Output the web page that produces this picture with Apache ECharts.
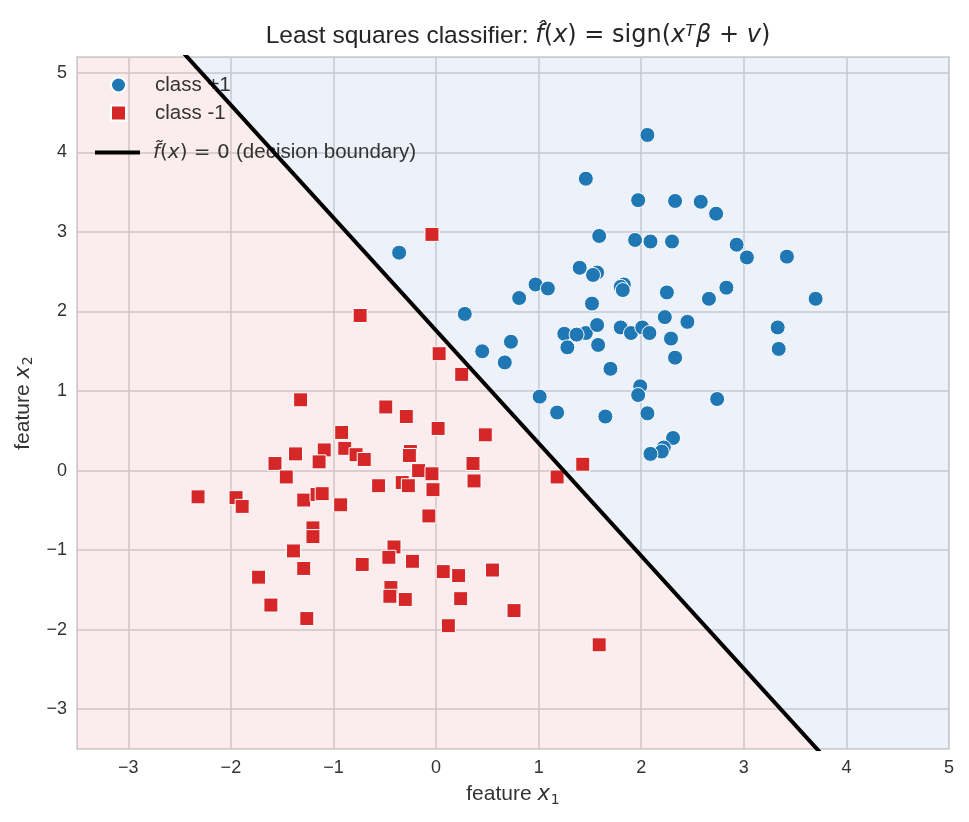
<!DOCTYPE html>
<html>
<head>
<meta charset="utf-8">
<script src="https://cdn.jsdelivr.net/npm/echarts@6/dist/echarts.min.js"></script>
<style>
  html, body { margin: 0; padding: 0; background: #fff; }
  #chart { width: 969px; height: 822px; }
</style>
</head>
<body>
<div id="chart"></div>
<script>
// class +1 points [x1, x2]
const classPos = [
  [2.06, 4.22], [1.46, 3.67], [1.97, 3.40], [2.33, 3.39], [2.58, 3.38], [2.73, 3.23],
  [1.59, 2.95], [1.94, 2.90], [2.09, 2.88], [2.30, 2.88], [2.93, 2.84], [3.03, 2.68],
  [3.42, 2.69], [-0.36, 2.74], [1.40, 2.55], [1.57, 2.49], [1.53, 2.46], [1.83, 2.34],
  [1.80, 2.31], [1.82, 2.27], [2.25, 2.24], [2.83, 2.30], [2.66, 2.16], [3.70, 2.16],
  [0.97, 2.34], [1.09, 2.29], [0.81, 2.17], [1.52, 2.10], [0.28, 1.97], [1.46, 1.73],
  [1.57, 1.83], [1.58, 1.58], [1.80, 1.80], [1.90, 1.73], [2.01, 1.80], [2.08, 1.73],
  [2.23, 1.93], [2.45, 1.87], [2.29, 1.66], [2.33, 1.42], [1.70, 1.28], [1.99, 1.06],
  [1.97, 0.95], [2.74, 0.90], [1.65, 0.68], [2.06, 0.72], [2.31, 0.41], [2.22, 0.29],
  [2.20, 0.24], [2.09, 0.21], [3.33, 1.80], [3.34, 1.53], [1.01, 0.93], [1.18, 0.73],
  [0.45, 1.50], [0.67, 1.36], [0.73, 1.62], [1.25, 1.72], [1.37, 1.71], [1.28, 1.55]
];
// class -1 points
const classNeg = [
  [-0.04, 2.97], [-0.74, 1.95], [0.03, 1.47], [0.25, 1.21], [-1.32, 0.89], [-0.49, 0.80],
  [-0.29, 0.68], [-0.92, 0.48], [0.02, 0.53], [0.48, 0.45], [-1.37, 0.21], [-1.09, 0.26],
  [-1.14, 0.11], [-1.57, 0.09], [-1.46, -0.08], [-0.89, 0.28], [-0.78, 0.20], [-0.70, 0.14],
  [-0.25, 0.24], [-0.26, 0.19], [-0.17, 0.00], [-0.56, -0.19], [-0.33, -0.15], [-0.27, -0.19],
  [-0.04, -0.04], [-0.03, -0.24], [-0.07, -0.57], [0.36, 0.09], [0.37, -0.13], [1.18, -0.08],
  [1.43, 0.08], [-2.32, -0.33], [-1.95, -0.34], [-1.89, -0.45], [-1.29, -0.37], [-1.16, -0.30],
  [-1.11, -0.29], [-0.93, -0.43], [-1.20, -0.72], [-1.20, -0.83], [-1.39, -1.01], [-1.29, -1.23],
  [-1.73, -1.34], [-1.61, -1.69], [-1.26, -1.86], [-0.72, -1.18], [-0.41, -0.96], [-0.46, -1.09],
  [-0.23, -1.14], [-0.44, -1.47], [-0.45, -1.58], [-0.30, -1.62], [0.07, -1.27], [0.22, -1.32],
  [0.55, -1.25], [0.24, -1.61], [0.76, -1.76], [0.12, -1.95], [1.59, -2.19]
];
// decision boundary, extended past the plot (clipped)
const boundary = [[-4, 7.43], [6, -6.74]];

const xTicks = [-3, -2, -1, 0, 1, 2, 3, 4, 5];
const yTicks = [-3, -2, -1, 0, 1, 2, 3, 4, 5];

const BLUE = '#1f77b4', RED = '#d62728';
const FONT = 'Liberation Sans', MATH = 'DejaVu Sans';
const minus = v => String(v).replace('-', '\u2212');

var myChart = echarts.init(document.getElementById('chart'));
var option;

// rich styles for "feature x_i"
const nameRich = {
  t: { fontSize: 21, fontFamily: FONT, color: '#333', lineHeight: 24, verticalAlign: 'top' },
  m: { fontSize: 21, fontFamily: MATH, fontStyle: 'italic', color: '#333', lineHeight: 24, verticalAlign: 'top' },
  s: { fontSize: 14, fontFamily: MATH, color: '#333', lineHeight: 14, verticalAlign: 'top', padding: [9, 0, 0, 1] }
};

const axisCommon = {
  axisLine: { show: false },
  axisTick: { show: false },
  splitLine: { show: true, lineStyle: { color: '#d3d3d3', width: 1.5 } },
  axisLabel: { color: '#333', fontSize: 18, fontFamily: FONT, formatter: minus },
  nameLocation: 'middle',
  nameTextStyle: { color: '#333', rich: nameRich }
};

option = {
  backgroundColor: '#fff',
  animation: false,
  title: {
    text: '{n|Least squares classifier: }{m|f\u0302}{u|(}{m|x}{u|) = sign(}{m|x}{p|T}{m|\u03b2}{u| + }{m|v}{u|)}',
    left: 513,
    top: 19,
    textAlign: 'center',
    textStyle: {
      fontWeight: 'normal',
      rich: {
        n: { fontSize: 24.5, fontFamily: FONT, fontWeight: 'normal', color: '#262626', lineHeight: 28, verticalAlign: 'top' },
        u: { fontSize: 24, fontFamily: MATH, fontWeight: 'normal', color: '#262626', lineHeight: 28, verticalAlign: 'top' },
        m: { fontSize: 24, fontFamily: MATH, fontWeight: 'normal', fontStyle: 'italic', color: '#262626', lineHeight: 28, verticalAlign: 'top' },
        p: { fontSize: 16, fontFamily: MATH, fontWeight: 'normal', fontStyle: 'italic', color: '#262626', lineHeight: 16, verticalAlign: 'top', padding: [0, 1, 0, 0] }
      }
    }
  },
  grid: {
    left: 77, right: 20, top: 57, bottom: 73,
    show: true, borderColor: '#cccccc', borderWidth: 1.5, backgroundColor: '#fff'
  },
  legend: [
    {
      data: [{ name: 'class +1', icon: 'circle' }, { name: 'class -1', icon: 'rect' }],
      orient: 'vertical',
      left: 110, top: 74, padding: 0,
      itemWidth: 15, itemHeight: 15, itemGap: 6,
      textStyle: { fontSize: 20.5, lineHeight: 22, fontFamily: FONT, color: '#333', padding: [0, 0, 0, 24] }
    },
    {
      data: [{ name: 'boundary', icon: 'rect' }],
      orient: 'vertical',
      left: 95, top: 142, padding: 0,
      itemWidth: 45, itemHeight: 4,
      formatter: () => '{m|f\u0303}{u|(}{m|x}{u|) = 0 }{t|(decision boundary)}',
      textStyle: {
        padding: [0, 0, 0, 8],
        rich: {
          t: { fontSize: 20.5, fontFamily: FONT, color: '#333', lineHeight: 24 },
          u: { fontSize: 20, fontFamily: MATH, color: '#333', lineHeight: 24 },
          m: { fontSize: 20, fontFamily: MATH, fontStyle: 'italic', color: '#333', lineHeight: 24 }
        }
      }
    }
  ],
  xAxis: Object.assign({}, axisCommon, {
    type: 'value', min: -3.5, max: 5,
    axisLabel: Object.assign({}, axisCommon.axisLabel, { customValues: xTicks, margin: 10 }),
    axisTick: { show: false, customValues: xTicks },
    name: '{t|feature }{m|x}{s|1}',
    nameGap: 35
  }),
  yAxis: Object.assign({}, axisCommon, {
    type: 'value', min: -3.5, max: 5.2,
    axisLabel: Object.assign({}, axisCommon.axisLabel, { customValues: yTicks, margin: 10 }),
    axisTick: { show: false, customValues: yTicks },
    name: '{t|feature }{m|x}{s|2}',
    nameGap: 37
  }),
  series: [
    {
      name: 'regionNeg', type: 'line', data: boundary, silent: true, z: 1,
      showSymbol: false, symbol: 'none',
      lineStyle: { width: 0 },
      areaStyle: { origin: 'start', color: 'rgba(213,47,47,0.12)' }
    },
    {
      name: 'regionPos', type: 'line', data: boundary, silent: true, z: 1,
      showSymbol: false, symbol: 'none',
      lineStyle: { width: 0 },
      areaStyle: { origin: 'end', color: 'rgba(60,115,200,0.14)' }
    },
    {
      name: 'class +1', type: 'scatter', data: classPos, z: 5,
      symbol: 'circle', symbolSize: 15,
      itemStyle: { color: BLUE, borderColor: '#fff', borderWidth: 1, opacity: 1 }
    },
    {
      name: 'class -1', type: 'scatter', data: classNeg, z: 5,
      symbol: 'rect', symbolSize: 14,
      itemStyle: { color: RED, borderColor: '#fff', borderWidth: 1, opacity: 1 }
    },
    {
      name: 'boundary', type: 'line', data: boundary, z: 6,
      showSymbol: false, symbol: 'none',
      lineStyle: { color: '#000', width: 4 },
      itemStyle: { color: '#000' }
    }
  ]
};

option && myChart.setOption(option);
</script>
</body>
</html>
